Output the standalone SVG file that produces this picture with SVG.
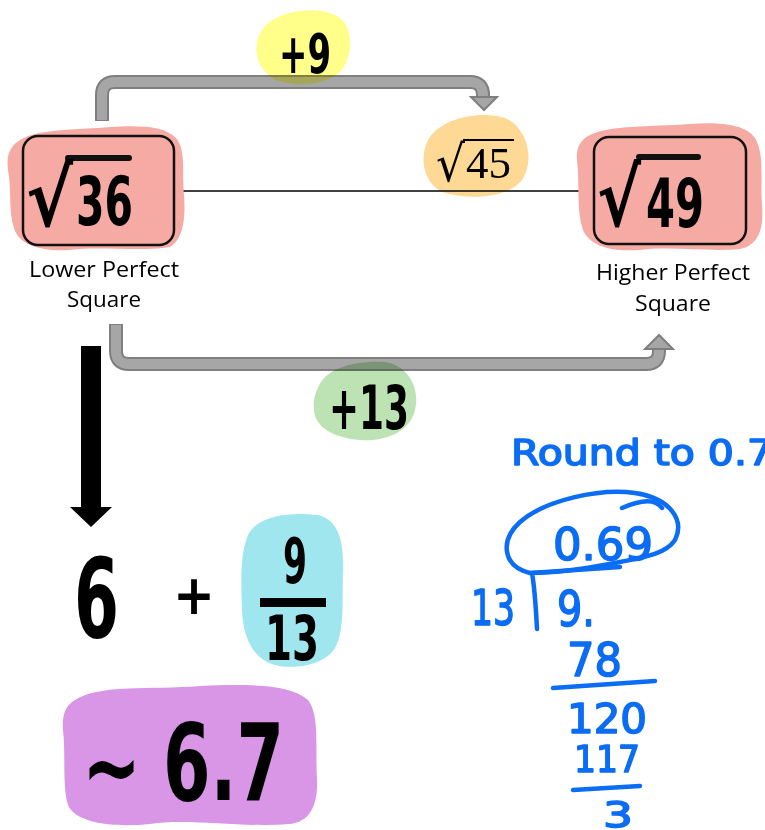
<svg xmlns="http://www.w3.org/2000/svg" width="765" height="830" viewBox="0 0 765 830">
<style>
.blob{mix-blend-mode:multiply}
.hand{font-family:"DejaVu Sans",sans-serif;font-weight:bold;fill:#000}
.lbl{font-family:"Open Sans","Liberation Sans",sans-serif;fill:#000;text-anchor:middle}
.ink{font-family:"DejaVu Sans",sans-serif;fill:#0b6cf4;stroke:#0b6cf4;stroke-width:1.6;stroke-linejoin:round}
.inkl{fill:none;stroke:#0b6cf4;stroke-width:4.5;stroke-linecap:round;stroke-linejoin:round}
.arrO{fill:none;stroke:#7f7f7f;stroke-width:14}
.arrI{fill:none;stroke:#a6a6a6;stroke-width:10}
.arrH{fill:#a6a6a6;stroke:#7f7f7f;stroke-width:2;stroke-linejoin:miter}
.box{fill:#f5aba4;stroke:#111;stroke-width:2.5}
</style>
<rect width="765" height="830" fill="#fff"/>
<g id="connectors">
  <line x1="174" y1="191" x2="594" y2="191" stroke="#000" stroke-width="1.3"/>
  <path class="arrO" d="M102,121 V95 Q102,82 115,82 H470 Q483,82 483,95 V98"/>
  <path class="arrI" d="M102,120 V95 Q102,82 115,82 H470 Q483,82 483,95 V99"/>
  <polygon class="arrH" points="471,97 497,97 484,110"/>
  <path class="arrO" d="M116,324 V351 Q116,364 129,364 H646 Q659,364 659,351 V349"/>
  <path class="arrI" d="M116,325 V351 Q116,364 129,364 H646 Q659,364 659,351 V348"/>
  <polygon class="arrH" points="645,349 673,349 659,335"/>
  <polygon points="81,346 101,346 101,507 112,507 91,527 70,507 81,507" fill="#000"/>
</g>
<g id="blobs">
  <path class="blob" fill="#ffff8a" d="M262,30 C275,10 320,4 340,18 C355,30 352,60 340,72 C325,86 290,88 272,78 C255,66 252,45 262,30 Z"/>
  <path class="blob" fill="#fdd995" d="M428,140 C440,118 480,110 505,118 C528,128 535,160 522,180 C508,198 470,200 445,193 C425,186 418,160 428,140 Z"/>
  <path class="blob" fill="#bde3b4" d="M318,388 C325,368 355,360 385,362 C410,366 420,390 415,410 C410,432 385,442 360,440 C335,438 315,428 314,410 C313,400 315,394 318,388 Z"/>
</g>
<g id="node-plus9">
  <text class="hand" x="279" y="73" font-size="56" textLength="52" lengthAdjust="spacingAndGlyphs">+9</text>
</g>
<g id="node-sqrt36">
  <path fill="#f6aaa4" d="M20,140 C40,128 80,130 110,127 C140,125 165,126 176,138 C186,150 182,170 184,195 C186,222 182,240 170,247 C140,252 100,246 70,250 C40,252 18,244 14,228 C8,210 12,190 8,170 C6,155 10,146 20,140 Z"/>
  <rect class="box" x="23" y="136" width="151" height="109" rx="15"/>
  <line x1="68" y1="158" x2="129" y2="158" stroke="#111" stroke-width="6" stroke-linecap="round"/>
  <text class="hand"><tspan x="26" y="226" font-size="80" textLength="47" lengthAdjust="spacingAndGlyphs">√</tspan><tspan x="76" y="225" font-size="67" textLength="57" lengthAdjust="spacingAndGlyphs">36</tspan></text>
  <text class="lbl" x="104" y="277" font-size="21" textLength="150" lengthAdjust="spacingAndGlyphs">Lower Perfect</text>
  <text class="lbl" x="104" y="307" font-size="21" textLength="74" lengthAdjust="spacingAndGlyphs">Square</text>
</g>
<g id="node-sqrt45">
  <line x1="463" y1="140" x2="514" y2="140" stroke="#000" stroke-width="2"/>
  <text font-family="DejaVu Serif,serif"><tspan x="436" y="181" font-size="50" textLength="29" lengthAdjust="spacingAndGlyphs">√</tspan><tspan x="466" y="178" font-family="Liberation Serif,serif" font-size="44" textLength="45" lengthAdjust="spacingAndGlyphs">45</tspan></text>
</g>
<g id="node-sqrt49">
  <path fill="#f6aaa4" d="M590,135 C610,125 650,127 690,124 C720,122 745,124 755,138 C765,155 760,180 762,205 C764,230 758,245 740,249 C710,252 670,246 640,250 C610,252 590,246 583,230 C576,210 580,185 577,160 C576,148 580,140 590,135 Z"/>
  <rect class="box" x="594" y="137" width="152" height="107" rx="15"/>
  <line x1="639" y1="157" x2="698" y2="157" stroke="#111" stroke-width="6" stroke-linecap="round"/>
  <text class="hand"><tspan x="597" y="226" font-size="80" textLength="44" lengthAdjust="spacingAndGlyphs">√</tspan><tspan x="646" y="227" font-size="67" textLength="58" lengthAdjust="spacingAndGlyphs">49</tspan></text>
  <text class="lbl" x="673" y="280" font-size="21" textLength="154" lengthAdjust="spacingAndGlyphs">Higher Perfect</text>
  <text class="lbl" x="673" y="311" font-size="21" textLength="76" lengthAdjust="spacingAndGlyphs">Square</text>
</g>
<g id="node-plus13">
  <text class="hand" x="329" y="429" font-size="60" textLength="80" lengthAdjust="spacingAndGlyphs">+13</text>
</g>
<g id="node-six">
  <text class="hand" x="74" y="637" font-size="110" textLength="45" lengthAdjust="spacingAndGlyphs">6</text>
</g>
<g id="node-plus">
  <text class="hand" x="173" y="614" font-size="56" textLength="42" lengthAdjust="spacingAndGlyphs">+</text>
</g>
<g id="node-fraction">
  <path class="blob" fill="#9fe6ef" d="M248,535 C258,515 290,512 318,515 C338,520 344,540 343,570 C342,600 345,630 335,648 C325,665 295,670 275,665 C255,660 243,640 242,610 C241,580 240,555 248,535 Z"/>
  <rect x="260" y="598" width="66" height="9" fill="#000"/>
  <text class="hand"><tspan x="283" y="583" font-size="62" textLength="24" lengthAdjust="spacingAndGlyphs">9</tspan><tspan x="265" y="660" font-size="62" textLength="54" lengthAdjust="spacingAndGlyphs">13</tspan></text>
</g>
<g id="node-result">
  <path fill="#d995e6" d="M75,700 C100,684 150,690 200,686 C250,684 290,684 308,700 C320,715 315,750 317,780 C318,805 310,822 290,824 C240,828 190,818 150,824 C110,828 75,822 68,805 C62,785 66,755 63,730 C62,715 65,706 75,700 Z"/>
  <text class="hand"><tspan x="82" y="801" font-size="100" textLength="59" lengthAdjust="spacingAndGlyphs">~</tspan><tspan x="163" y="800" font-size="107" textLength="121" lengthAdjust="spacingAndGlyphs">6.7</tspan></text>
</g>
<g id="handwork">
  <text class="ink" x="511" y="465" font-size="36" textLength="262" lengthAdjust="spacingAndGlyphs">Round to 0.7</text>
  <path class="inkl" d="M530,573 C502,566 500,540 520,522 C545,500 600,488 635,493 C670,498 685,520 675,540 C665,555 640,558 620,562 C590,568 560,573 530,573"/>
  <path class="inkl" d="M622,508 C640,500 655,498 662,508"/>
  <text class="ink" x="553" y="560" font-size="45" textLength="100" lengthAdjust="spacingAndGlyphs">0.69</text>
  <path class="inkl" d="M531,573 L620,567 M532,573 C535,590 536,610 537,629"/>
  <text class="ink" x="471" y="625" font-size="50" textLength="44" lengthAdjust="spacingAndGlyphs">13</text>
  <text class="ink" x="557" y="626" font-size="50" textLength="38" lengthAdjust="spacingAndGlyphs">9.</text>
  <text class="ink" x="567" y="676" font-size="46" textLength="55" lengthAdjust="spacingAndGlyphs">78</text>
  <path class="inkl" d="M553,688 L655,681"/>
  <text class="ink" x="567" y="733" font-size="40" textLength="80" lengthAdjust="spacingAndGlyphs">120</text>
  <text class="ink" x="574" y="772" font-size="37" textLength="66" lengthAdjust="spacingAndGlyphs">117</text>
  <path class="inkl" d="M573,790 L640,786"/>
  <text class="ink" x="603" y="827" font-size="36" textLength="30" lengthAdjust="spacingAndGlyphs">3</text>
</g>
</svg>
